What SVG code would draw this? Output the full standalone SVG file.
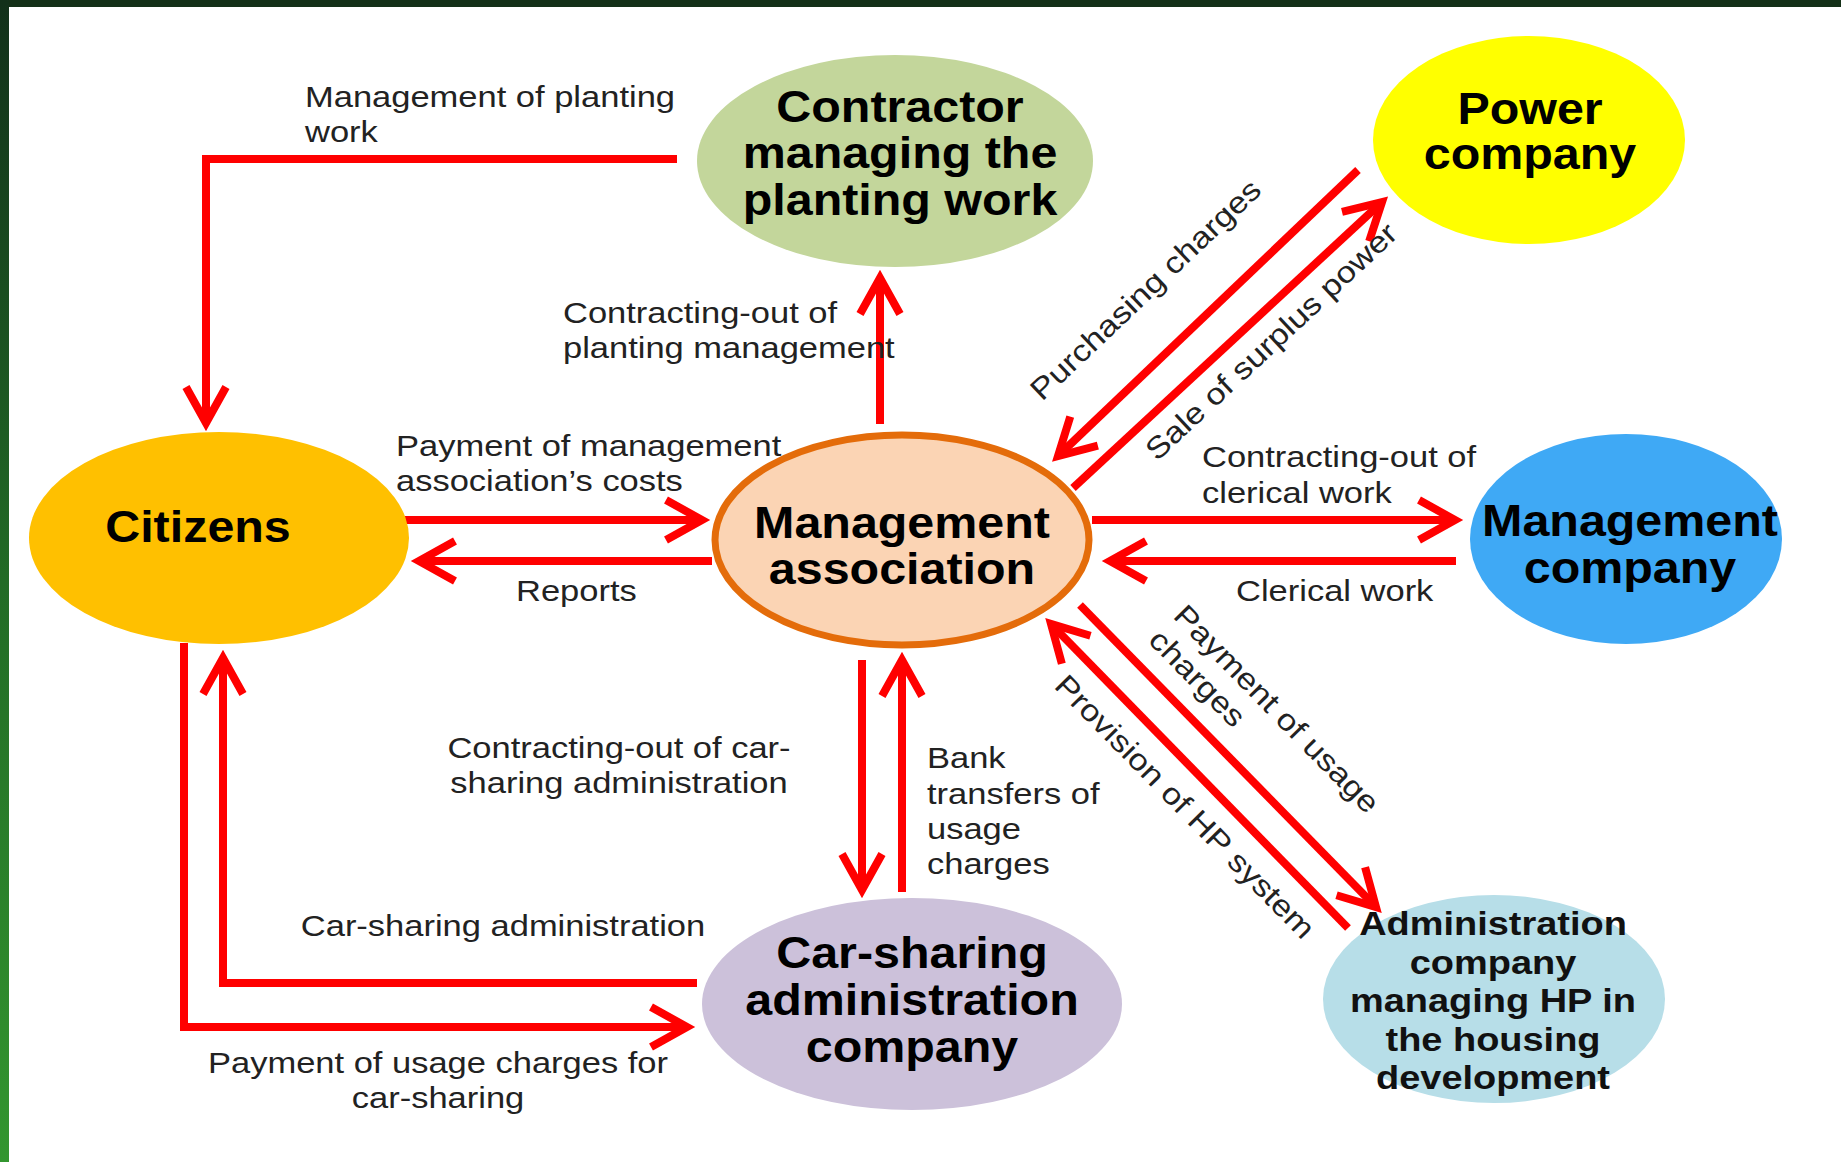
<svg xmlns="http://www.w3.org/2000/svg" width="1841" height="1162" viewBox="0 0 1841 1162">
<defs>
<linearGradient id="sideGrad" x1="0" y1="0" x2="0" y2="1">
<stop offset="0" stop-color="#12301a"/>
<stop offset="0.5" stop-color="#226b26"/>
<stop offset="1" stop-color="#33962f"/>
</linearGradient>
<marker id="arr" viewBox="-50 -30 60 60" refX="0" refY="0" markerWidth="60" markerHeight="60" markerUnits="userSpaceOnUse" orient="auto" overflow="visible">
<path d="M-36,-20 L0,0 L-36,20" fill="none" stroke="#ff0000" stroke-width="8" stroke-linejoin="miter"/>
</marker>
<style>
.conn{fill:none;stroke:#ff0000;stroke-width:8;stroke-linejoin:miter;marker-end:url(#arr)}
.nt{font-family:"Liberation Sans",Arial,sans-serif;font-weight:bold;font-size:44px;fill:#000;text-anchor:middle}
.ns{font-size:33px;fill:#111}
.lb{font-family:"Liberation Sans",Arial,sans-serif;font-size:30px;fill:#222}
.mid{text-anchor:middle}
</style>
</defs>
<rect x="0" y="0" width="1841" height="1162" fill="#ffffff"/>
<rect x="0" y="0" width="1841" height="7" fill="#143018"/>
<rect x="0" y="0" width="9" height="1162" fill="url(#sideGrad)"/>

<g id="connectors">
<path class="conn" d="M677,159 H206 V423"/>
<path class="conn" d="M880,424 V278"/>
<path class="conn" d="M405,520 H702"/>
<path class="conn" d="M712,561 H419"/>
<path class="conn" d="M1073,488 L1382,202"/>
<path class="conn" d="M1358,170 L1058,456"/>
<path class="conn" d="M1092,520 H1455"/>
<path class="conn" d="M1456,561 H1110"/>
<path class="conn" d="M862,660 V890"/>
<path class="conn" d="M902,892 V660"/>
<path class="conn" d="M697,983 H223 V658"/>
<path class="conn" d="M184,643 V1027 H687"/>
<path class="conn" d="M1080,605 L1376,907"/>
<path class="conn" d="M1348,928 L1051,624"/>
</g>

<g id="connector-labels">
<text class="lb" transform="translate(305 0) scale(1.15 1)"><tspan x="0" y="107">Management of planting</tspan><tspan x="0" y="142">work</tspan></text>
<text class="lb" transform="translate(563 0) scale(1.15 1)"><tspan x="0" y="323">Contracting-out of</tspan><tspan x="0" y="358">planting management</tspan></text>
<text class="lb" transform="translate(396 0) scale(1.15 1)"><tspan x="0" y="456">Payment of management</tspan><tspan x="0" y="491">association’s costs</tspan></text>
<text class="lb" transform="translate(516 0) scale(1.15 1)" x="0" y="601">Reports</text>
<text class="lb" transform="translate(1042 402) rotate(-43.5) scale(1.15 1)" x="0" y="0">Purchasing charges</text>
<text class="lb" transform="translate(1157 462) rotate(-43) scale(1.15 1)" x="0" y="0">Sale of surplus power</text>
<text class="lb" transform="translate(1202 0) scale(1.15 1)"><tspan x="0" y="467">Contracting-out of</tspan><tspan x="0" y="503">clerical work</tspan></text>
<text class="lb" transform="translate(1236 0) scale(1.15 1)" x="0" y="601">Clerical work</text>
<text class="lb" transform="translate(1172 617) rotate(45.5) scale(1.15 1)"><tspan x="0" y="0">Payment of usage</tspan><tspan x="0" y="35">charges</tspan></text>
<text class="lb" transform="translate(1053 687) rotate(45.5) scale(1.15 1)" x="0" y="0">Provision of HP system</text>
<text class="lb mid" transform="translate(619 0) scale(1.15 1)"><tspan x="0" y="758">Contracting-out of car-</tspan><tspan x="0" y="793">sharing administration</tspan></text>
<text class="lb" transform="translate(927 0) scale(1.15 1)"><tspan x="0" y="768">Bank</tspan><tspan x="0" y="804">transfers of</tspan><tspan x="0" y="839">usage</tspan><tspan x="0" y="874">charges</tspan></text>
<text class="lb mid" transform="translate(503 0) scale(1.15 1)" x="0" y="936">Car-sharing administration</text>
<text class="lb mid" transform="translate(438 0) scale(1.15 1)"><tspan x="0" y="1073">Payment of usage charges for</tspan><tspan x="0" y="1108">car-sharing</tspan></text>
</g>

<g id="node-contractor">
<ellipse cx="895" cy="161" rx="198" ry="106" fill="#c3d69b"/>
<text class="nt" transform="translate(900 0) scale(1.1 1)"><tspan x="0" y="122">Contractor</tspan><tspan x="0" y="168">managing the</tspan><tspan x="0" y="215">planting work</tspan></text>
</g>

<g id="node-power">
<ellipse cx="1529" cy="140" rx="156" ry="104" fill="#ffff00"/>
<text class="nt" transform="translate(1530 0) scale(1.1 1)"><tspan x="0" y="124">Power</tspan><tspan x="0" y="169">company</tspan></text>
</g>

<g id="node-citizens">
<ellipse cx="219" cy="538" rx="190" ry="106" fill="#ffc000"/>
<text class="nt" transform="translate(198 0) scale(1.1 1)" x="0" y="542">Citizens</text>
</g>

<g id="node-association">
<ellipse cx="902" cy="540" rx="187" ry="105" fill="#fbd4b4" stroke="#e46c0a" stroke-width="7"/>
<text class="nt" transform="translate(902 0) scale(1.1 1)"><tspan x="0" y="538">Management</tspan><tspan x="0" y="584">association</tspan></text>
</g>

<g id="node-management-company">
<ellipse cx="1626" cy="539" rx="156" ry="105" fill="#3fa9f5"/>
<text class="nt" transform="translate(1630 0) scale(1.1 1)"><tspan x="0" y="536">Management</tspan><tspan x="0" y="583">company</tspan></text>
</g>

<g id="node-carsharing">
<ellipse cx="912" cy="1004" rx="210" ry="106" fill="#ccc1da"/>
<text class="nt" transform="translate(912 0) scale(1.1 1)"><tspan x="0" y="968">Car-sharing</tspan><tspan x="0" y="1015">administration</tspan><tspan x="0" y="1062">company</tspan></text>
</g>

<g id="node-hp-admin">
<ellipse cx="1494" cy="999" rx="171" ry="104" fill="#b7dee8"/>
<text class="nt ns" transform="translate(1493 0) scale(1.15 1)"><tspan x="0" y="935">Administration</tspan><tspan x="0" y="974">company</tspan><tspan x="0" y="1012">managing HP in</tspan><tspan x="0" y="1051">the housing</tspan><tspan x="0" y="1089">development</tspan></text>
</g>
</svg>
